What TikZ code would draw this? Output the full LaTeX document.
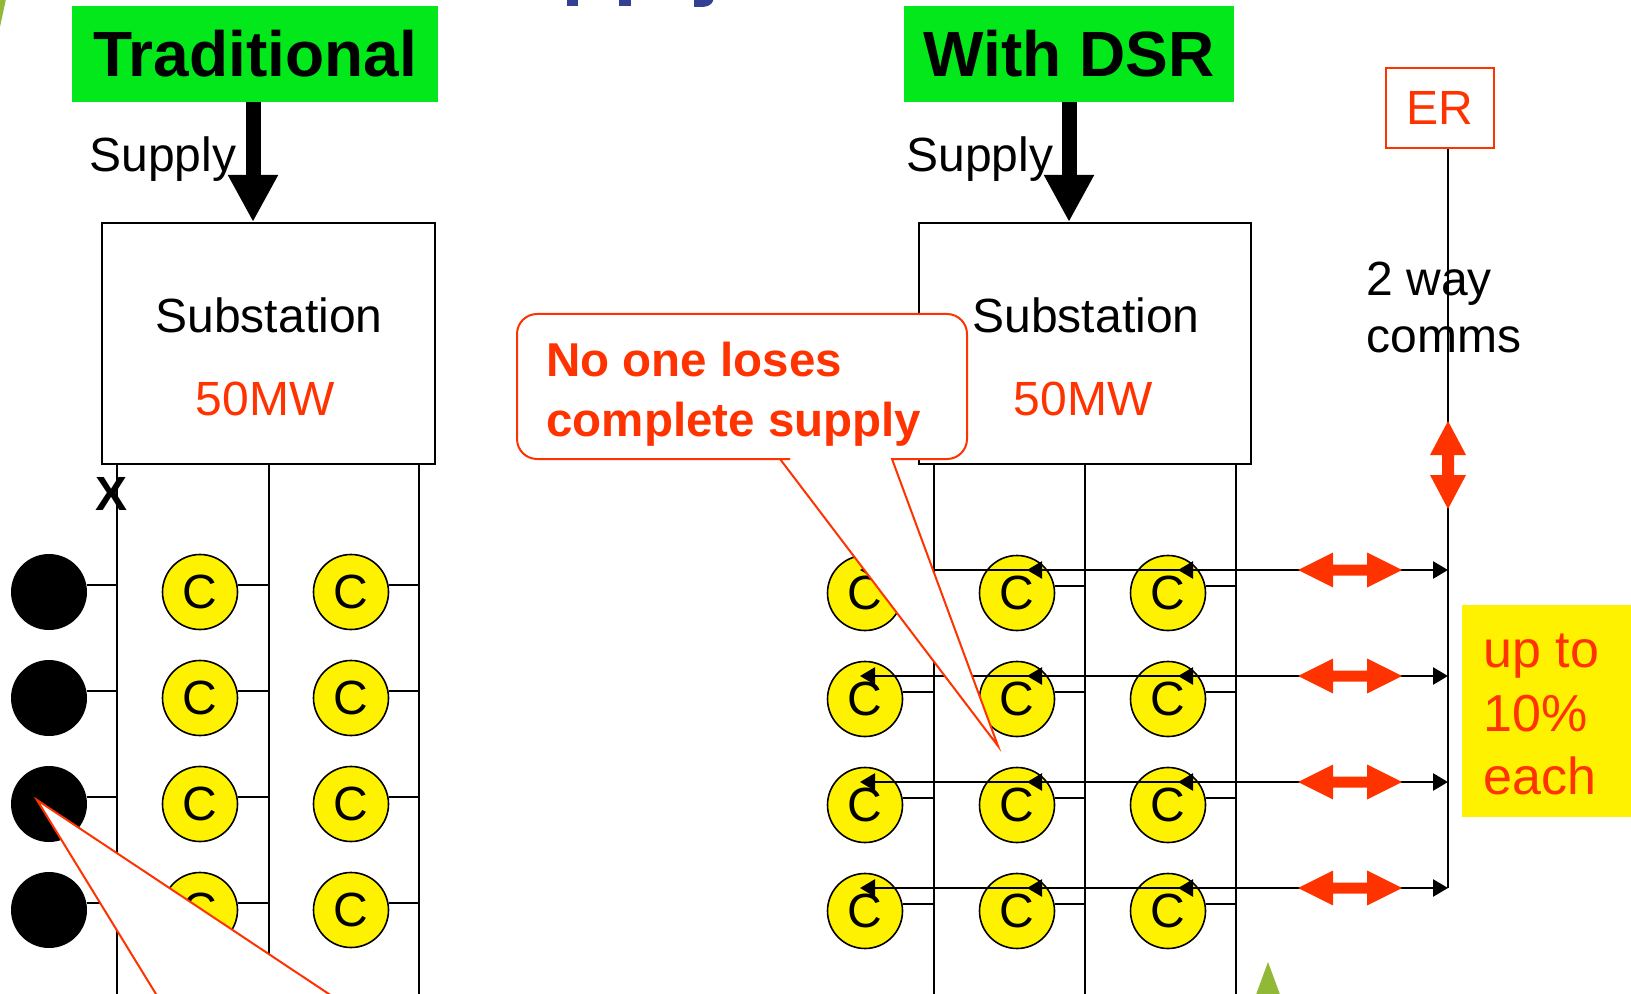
\documentclass[tikz,border=0pt]{standalone}
\usepackage{fontspec}
\setmainfont{Liberation Sans}
\usetikzlibrary{arrows.meta}
\definecolor{fgred}{RGB}{255,51,0}
\definecolor{hdgreen}{RGB}{3,232,26}
\definecolor{ttlblue}{RGB}{51,63,148}
\definecolor{leafgreen}{RGB}{145,185,55}
\newcommand\fsz[1]{\fontsize{#1}{#1}\selectfont}
\tikzset{
  hdbox/.style={fill=hdgreen, inner sep=0pt, minimum height=48pt, font=\fsz{32}\bfseries},
  subbox/.style={draw=black, line width=1pt, fill=white, minimum height=120.5pt, inner sep=0pt},
  ccirc/.style={circle, draw=black, line width=0.8pt, fill=yellow, minimum size=37.5pt, inner sep=0pt, font=\fsz{24}},
  bcirc/.style={circle, fill=black, minimum size=38pt, inner sep=0pt},
  wire/.style={line width=1pt},
  rowarrow/.style={line width=1.3pt, {Triangle[length=7.5pt,width=8.5pt]}-{Triangle[length=7.5pt,width=8.5pt]}},
  rowtip/.style={line width=1.3pt, -{Triangle[length=7.5pt,width=8.5pt]}},
  supplyarrow/.style={line width=7.5pt, -{Triangle[length=23.5pt,width=23.5pt]}},
  lbl/.style={inner sep=0pt, anchor=base, font=\fsz{24}},
  lblw/.style={inner sep=0pt, anchor=base west, font=\fsz{24}},
  redbold/.style={inner sep=0pt, anchor=base west, text=fgred, font=\fsz{23.75}\bfseries},
  hdbl/.pic={\fill[fgred] (-52,0) -- (-17,-17.5) -- (-17,-5.5) -- (17,-5.5) -- (17,-17.5) -- (52,0) -- (17,17.5) -- (17,5.5) -- (-17,5.5) -- (-17,17.5) -- cycle;},
  vdbl/.pic={\fill[fgred] (0,-44) -- (18,-10) -- (6,-10) -- (6,10) -- (18,10) -- (0,44) -- (-18,10) -- (-6,10) -- (-6,-10) -- (-18,-10) -- cycle;},
}
\begin{document}
\begin{tikzpicture}[x=0.5pt,y=-0.5pt]
\useasboundingbox (0,0) rectangle (1631,994);
\clip (0,0) rectangle (1631,994);
% background fragments
\fill[leafgreen] (0,-1) -- (6,-1) -- (0,27) -- cycle;
\fill[leafgreen] (1268,962) -- (1282,1000) -- (1254,1000) -- cycle;
\fill[ttlblue] (567,-2) rectangle (578,6);
\fill[ttlblue] (619,-2) rectangle (631,6);
\fill[ttlblue] (694,-2) -- (713,-2) -- (713,1) .. controls (711,6) and (706,7) .. (700,7) -- (694,7) -- cycle;

% ---------------- Traditional ----------------
\node[hdbox, minimum width=183pt] (trad) at (255,54) {Traditional};
\node[subbox, minimum width=166.5pt] (subL) at (268.5,343.5) {};
\coordinate (supLtop) at (253,102);
\draw[supplyarrow] (supLtop) -- (supLtop |- subL.north);
\node[lblw] (supL) at (89,172) {Supply};
\node[lbl] (subLt) at (269,333) {Substation};
\node[lbl, text=fgred] (subLmw) at (265,415) {50MW};

\coordinate (lv1) at (117,464); \coordinate (lv1b) at (117,994);
\coordinate (lv2) at (269,464); \coordinate (lv2b) at (269,994);
\coordinate (lv3) at (419,464); \coordinate (lv3b) at (419,994);
\draw[wire] (lv1) -- (lv1b);
\draw[wire] (lv2) -- (lv2b);
\draw[wire] (lv3) -- (lv3b);
\node[lbl, font=\fsz{24}\bfseries] (xmark) at (112,510) {X};

\foreach \y [count=\i] in {592,698,804,910} {
  \node[bcirc] (b\i) at (49,\y) {};
  \node[ccirc] (la\i) at (200,\y) {C};
  \node[ccirc] (lb\i) at (351,\y) {C};
  \draw[wire] (b\i.11) -- (b\i.11 -| lv1);
  \draw[wire] (la\i.11) -- (la\i.11 -| lv2);
  \draw[wire] (lb\i.11) -- (lb\i.11 -| lv3);
}

% ---------------- With DSR ----------------
\node[hdbox, minimum width=165pt] (dsr) at (1069,54) {With DSR};
\node[subbox, minimum width=166pt] (subR) at (1085,343.5) {};
\draw[supplyarrow] (dsr.south) -- (dsr.south |- subR.north);
\node[lblw] (supR) at (906,172) {Supply};
\node[lbl] (subRt) at (1086,333) {Substation};
\node[lbl, text=fgred] (subRmw) at (1083,415) {50MW};

\coordinate (rv1) at (934,464); \coordinate (rv1b) at (934,994);
\coordinate (rv2) at (1085,464); \coordinate (rv2b) at (1085,994);
\coordinate (rv3) at (1236,464); \coordinate (rv3b) at (1236,994);
\draw[wire] (rv1) -- (rv1b);
\draw[wire] (rv2) -- (rv2b);
\draw[wire] (rv3) -- (rv3b);

\foreach \y [count=\i] in {593,699,805,911} {
  \node[ccirc] (ra\i) at (865,\y) {C};
  \node[ccirc] (rb\i) at (1017,\y) {C};
  \node[ccirc] (rc\i) at (1168,\y) {C};
  \draw[wire] (ra\i.11) -- (ra\i.11 -| rv1);
  \draw[wire] (rb\i.11) -- (rb\i.11 -| rv2);
  \draw[wire] (rc\i.11) -- (rc\i.11 -| rv3);
}

% ER and comms
\node[draw=fgred, line width=1pt, fill=white, minimum width=54pt, minimum height=40pt, inner sep=0pt, text=fgred, font=\fsz{24}] (er) at (1440,108) {ER};
\coordinate (erbot) at (1448,888);
\draw[line width=1.1pt] (er.south -| erbot) -- (erbot);
\node[lblw] (comm1) at (1366,296) {2 way};
\node[lblw] (comm2) at (1366,352) {comms};
\pic at (1448,465) {vdbl};

\foreach \ry [count=\i] in {570,676,782,888} {
  \coordinate (ta\i) at (860,\ry);
  \coordinate (tb\i) at (1027,\ry);
  \coordinate (tc\i) at (1178,\ry);
  \coordinate (te\i) at (1448,\ry);
  \draw[rowarrow] (ta\i) -- (te\i);
  \draw[rowtip] ([xshift=8pt]tb\i) -- (tb\i);
  \draw[rowtip] ([xshift=8pt]tc\i) -- (tc\i);
  \pic at (1350,\ry) {hdbl};
}

% up to 10% each
\node[fill=yellow, minimum width=89pt, minimum height=106pt, inner sep=0pt, anchor=north west] (pctbox) at (1462,605) {};
\node[lblw, text=fgred, font=\fsz{26}] (pct1) at (1483,667) {up to};
\node[lblw, text=fgred, font=\fsz{26}] (pct2) at (1483,731) {10\%};
\node[lblw, text=fgred, font=\fsz{26}] (pct3) at (1483,794) {each};

% callout right
\draw[fill=white, draw=fgred, line width=1pt] (780,459) -- (998,746) -- (892,459) -- (900,459) [rounded corners=10pt] -- (967,459) -- (967,314) -- (517,314) -- (517,459) -- (770,459) [sharp corners] -- (780,459) -- cycle;
\node[redbold] (call1) at (546,377) {No one loses};
\node[redbold] (call2) at (546,436) {complete supply};

% callout pointer bottom left
\coordinate (cltip) at (37,800);
\coordinate (clleft) at (167,1012);
\coordinate (clright) at (356,1012);
\fill[white] (cltip) -- (clleft) -- (clright) -- cycle;
\draw[fgred, line width=1pt] (clleft) -- (cltip) -- (clright);
\end{tikzpicture}
\end{document}
